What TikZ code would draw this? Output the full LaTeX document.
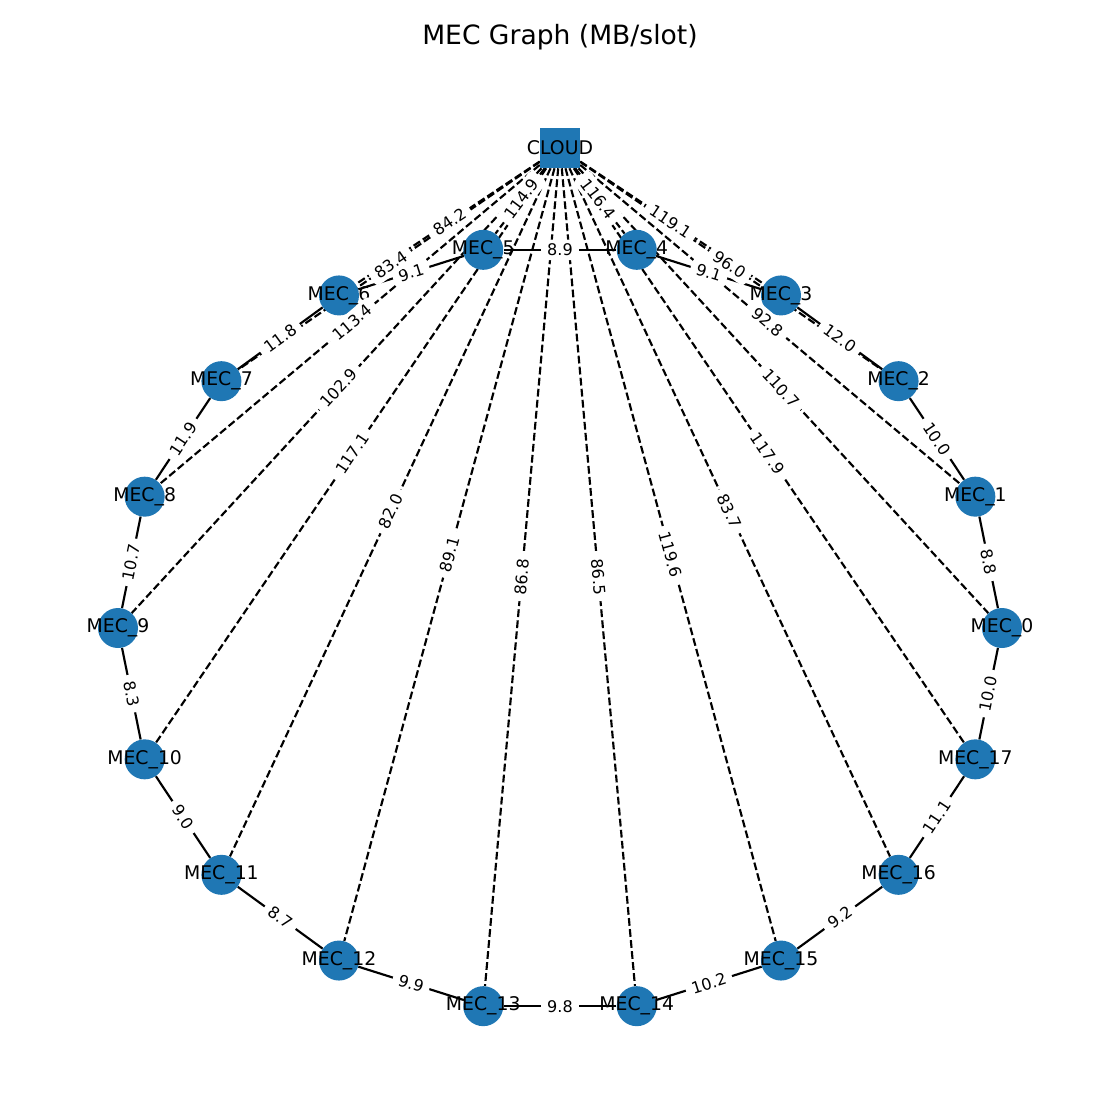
\documentclass[tikz,border=0pt]{standalone}
\usepackage{fontspec}
\setmainfont{DejaVu Sans}
\usetikzlibrary{backgrounds}
\definecolor{nodeblue}{RGB}{31,119,180}
\tikzstyle{mec} = [circle, fill=nodeblue, minimum size=10.16mm, inner sep=0pt]
\tikzstyle{cloudbox} = [rectangle, fill=nodeblue, minimum size=10.16mm, inner sep=0pt]
\tikzstyle{nodetext} = [font=\fontsize{13.6}{16}\selectfont, inner sep=0pt]
\tikzstyle{ring} = [line width=1.55pt]
\tikzstyle{uplink} = [line width=1.55pt, dash pattern=on 5.6pt off 2.4pt]
\tikzstyle{weight} = [font=\fontsize{11.6}{13}\selectfont, fill=white, rounded corners=3pt, inner xsep=4.5pt, inner ysep=3pt, sloped]

\begin{document}
\begin{tikzpicture}[x=0.254mm, y=0.254mm]
\useasboundingbox (-560,-492) rectangle (560,628);
\node (title) at (0,591) {\fontsize{19.2}{23}\selectfont MEC Graph (MB/slot)};
\node (cloud) [cloudbox, label={[nodetext]center:CLOUD}] at (0,480) {};
\foreach \i in {0,...,17}
  \node (mec\i) [mec, label={[nodetext]center:MEC\_\i}] at ({442*cos(20*\i)}, {384*sin(20*\i)}) {};
% links go behind the nodes
\begin{scope}[on background layer]
\foreach \i in {0,...,17}
  \draw [uplink] (cloud) -- (mec\i);
\foreach \i [evaluate=\i as \j using {int(mod(\i+1,18))}] in {0,...,17}
  \draw [ring] (mec\i) -- (mec\j);
\end{scope}
% weights
\foreach \i/\j/\w in {0/1/8.8, 1/2/10.0, 2/3/12.0, 3/4/9.1, 4/5/8.9, 5/6/9.1, 6/7/11.8, 7/8/11.9, 8/9/10.7,
    9/10/8.3, 10/11/9.0, 11/12/8.7, 12/13/9.9, 13/14/9.8, 14/15/10.2, 15/16/9.2, 16/17/11.1, 17/0/10.0}
  \path (mec\i.center) -- (mec\j.center) node [weight, midway] {\w};
\foreach \i/\w in {0/110.7, 1/92.8, 2/96.0, 3/119.1, 4/116.4, 5/114.9, 6/84.2, 7/83.4, 8/113.4,
    9/102.9, 10/117.1, 11/82.0, 12/89.1, 13/86.8, 14/86.5, 15/119.6, 16/83.7, 17/117.9}
  \path (cloud.center) -- (mec\i.center) node [weight, midway] {\w};
\end{tikzpicture}
\end{document}
